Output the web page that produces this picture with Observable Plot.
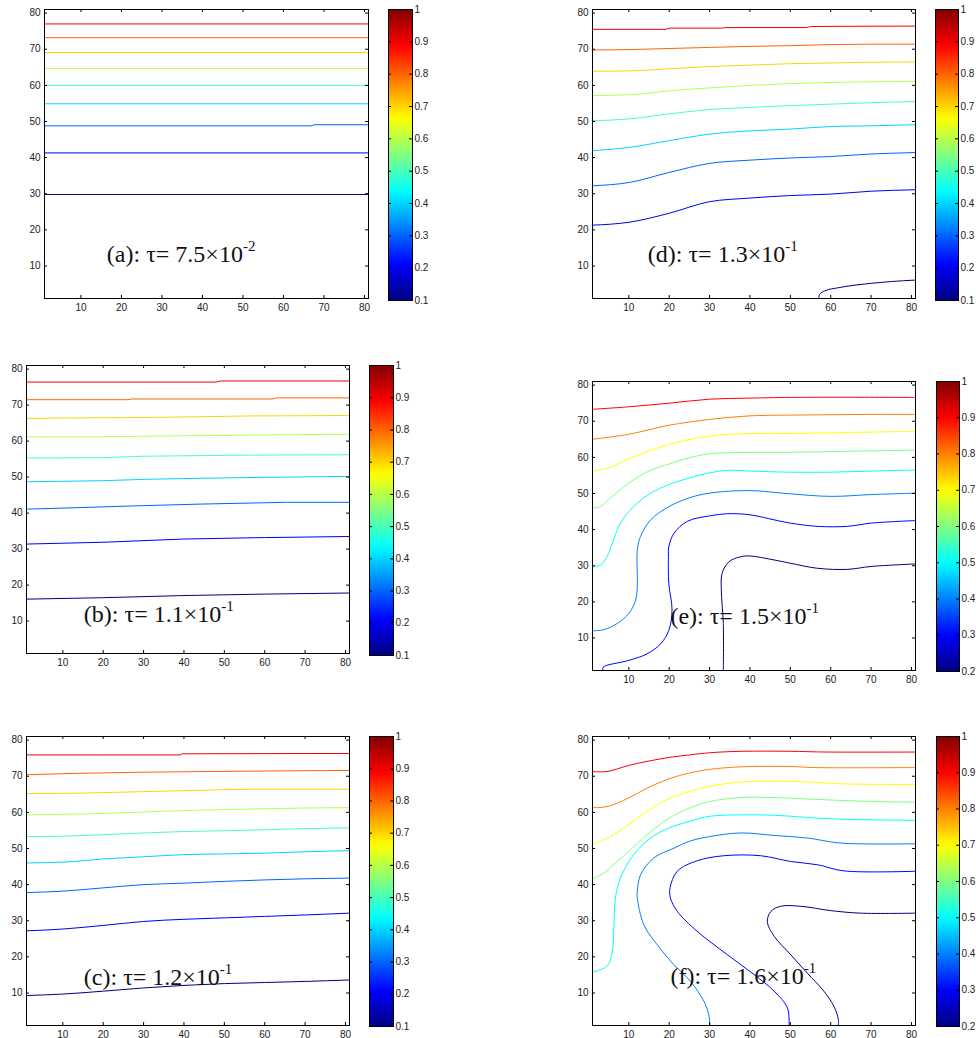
<!DOCTYPE html>
<html><head><meta charset="utf-8">
<script src="https://cdn.jsdelivr.net/npm/d3@7"></script>
<script src="https://cdn.jsdelivr.net/npm/@observablehq/plot@0.6"></script>
<style>
body{margin:0;background:#fff;}
#root{position:relative;width:976px;height:1038px;overflow:hidden;}
</style></head><body><div id="root"></div>
<script>
// ---------- data ----------
const axisTicks = [10,20,30,40,50,60,70,80];
const cbTicks01 = [0.1,0.2,0.3,0.4,0.5,0.6,0.7,0.8,0.9,1];
const cbTicks02 = [0.2,0.3,0.4,0.5,0.6,0.7,0.8,0.9,1];

const linesA = [
 [0.9, [[1,77.0],[81,77.0]]],
 [0.8, [[1,73.2],[81,73.2]]],
 [0.7, [[1,69.1],[81,69.1]]],
 [0.6, [[1,64.7],[81,64.7]]],
 [0.5, [[1,60.0],[81,60.0]]],
 [0.4, [[1,54.9],[81,54.9]]],
 [0.3, [[1,48.8],[67,48.8],[67.5,49.1],[81,49.1]]],
 [0.2, [[1,41.3],[81,41.3]]],
 [0.1, [[1,29.8],[81,29.8]]]
];
const linesB = [
 [0.9, [[1,76.4],[48,76.4],[49,76.7],[81,76.7]]],
 [0.8, [[1,71.5],[26,71.5],[27,71.7],[62,71.7],[63,72.0],[81,72.0]]],
 [0.7, [[1,66.3],[10,66.4],[34,66.6],[57,67.0],[81,67.1]]],
 [0.6, [[1,61.2],[20,61.2],[41,61.5],[60,61.7],[81,61.9]]],
 [0.5, [[1,55.3],[20,55.4],[30,55.8],[56,56.1],[81,56.2]]],
 [0.4, [[1,48.7],[20,49.0],[31,49.4],[51,49.8],[81,50.2]]],
 [0.3, [[1,41.1],[13.5,41.5],[27.6,42.0],[44,42.5],[65.7,43.0],[81,43.0]]],
 [0.2, [[1,31.4],[20,31.9],[40,32.8],[60,33.2],[81,33.5]]],
 [0.1, [[1,16.1],[20,16.5],[40,17.1],[60,17.5],[81,17.8]]]
];
const linesC = [
 [0.9, [[1,75.9],[39,75.9],[39.5,76.2],[81,76.3]]],
 [0.8, [[1,70.4],[13.5,70.8],[28.5,71.1],[45.8,71.3],[67,71.5],[81,71.6]]],
 [0.7, [[1,65.2],[13.5,65.3],[31.8,65.8],[44,66.1],[56.6,66.4],[81,66.4]]],
 [0.6, [[1,59.3],[20,59.7],[40,60.5],[60,61.0],[70,61.2],[81,61.3]]],
 [0.5, [[1,53.3],[10,53.4],[20,53.8],[30,54.3],[40,54.7],[50,54.9],[60,55.2],[70,55.5],[81,55.7]]],
 [0.4, [[1,46.0],[10,46.2],[20,47.1],[30,47.7],[40,48.3],[50,48.5],[60,48.7],[70,49.1],[81,49.4]]],
 [0.3, [[1,37.8],[10,38.2],[20,39.1],[30,40.0],[40,40.4],[50,40.9],[60,41.3],[70,41.6],[81,41.8]]],
 [0.2, [[1,27.2],[10,27.7],[20,28.7],[30,29.8],[40,30.4],[50,30.8],[60,31.2],[70,31.6],[81,32.1]]],
 [0.1, [[1,9.3],[10,9.7],[20,10.5],[30,11.4],[40,12.1],[50,12.6],[60,12.9],[70,13.2],[81,13.6]]]
];
const linesD = [
 [0.9, [[1,75.5],[19,75.5],[20,75.85],[33,75.85],[34,76.0],[54,76.0],[55,76.3],[81,76.4]]],
 [0.8, [[1,69.8],[10,69.9],[20,70.2],[30,70.5],[40,70.8],[50,71.0],[60,71.3],[70,71.4],[81,71.4]]],
 [0.7, [[1,63.9],[10,64.0],[20,64.6],[30,65.2],[40,65.6],[50,66.0],[60,66.2],[70,66.4],[81,66.5]]],
 [0.6, [[1,57.2],[10,57.4],[20,58.5],[30,59.3],[40,60.0],[50,60.5],[60,60.8],[70,61.0],[81,61.1]]],
 [0.5, [[1,50.2],[10,50.7],[20,52.1],[30,53.3],[40,53.9],[50,54.4],[60,54.8],[70,55.2],[81,55.5]]],
 [0.4, [[1,41.9],[10,42.8],[20,44.7],[30,46.5],[40,47.4],[50,47.9],[60,48.6],[70,48.8],[81,49.1]]],
 [0.3, [[1,32.2],[10,33.1],[20,35.9],[30,38.4],[40,39.3],[50,39.9],[60,40.3],[70,41.0],[81,41.4]]],
 [0.2, [[1,21.3],[10,22.1],[20,24.6],[30,27.8],[40,28.8],[50,29.5],[60,29.9],[70,30.7],[81,31.1]]],
 [0.1, [[57,1],[57.2,2],[58.5,3.1],[62,4],[66,4.7],[70,5.2],[75,5.7],[81,6.1]]]
];
const linesE = [
 [0.9, [[1,73.3],[10,74.0],[20,75.0],[30,76.1],[40,76.4],[50,76.6],[81,76.6]]],
 [0.8, [[1,65.0],[10,66.4],[20,68.9],[30,70.5],[40,71.5],[50,71.7],[60,71.8],[70,71.9],[81,71.9]]],
 [0.7, [[1,56.1],[5,57.1],[10,59.6],[20,63.6],[30,65.9],[40,66.6],[50,66.6],[60,66.8],[70,67.0],[81,67.2]]],
 [0.6, [[1,46.0],[3,46.4],[5,48.3],[10,52.9],[15,56.2],[20,58.2],[25,59.9],[30,61.0],[40,61.4],[50,61.4],[60,61.6],[70,61.8],[81,62.0]]],
 [0.5, [[1,29.7],[3,30.2],[4.6,32.5],[5.9,36.2],[7.9,41.8],[11.2,46.4],[15.4,50.1],[20,52.5],[25,54.3],[30,55.7],[34.4,56.4],[40,56.2],[50,55.9],[60,55.9],[70,56.2],[81,56.5]]],
 [0.4, [[1,12.0],[3.8,12.3],[7.1,14.0],[10,16.8],[11.7,20.5],[12.1,25.1],[12.1,34.4],[12.9,38.1],[15.4,42.7],[20,46.4],[25,48.8],[30,50.1],[40,50.8],[50,49.9],[60,49.2],[70,49.7],[81,50.1]]],
 [0.3, [[3.6,1],[3.6,1.9],[10,3.8],[14.5,5.6],[17.9,8.4],[19.9,12.1],[20.7,17.7],[19.9,25.1],[19.8,32.5],[19.9,35.3],[21.2,39.0],[24.5,42.3],[30,43.8],[34.4,44.4],[40,44.1],[46,42.7],[50,41.8],[56.7,40.9],[64.1,40.9],[70,41.8],[81,42.5]]],
 [0.2, [[33.4,1],[33.4,14],[32.9,23.3],[33.1,27.9],[34.8,31.1],[37.7,32.5],[40,32.7],[46,31.6],[50,30.7],[56.7,29.3],[64.1,29.0],[70,29.8],[81,30.5]]]
];
const linesF = [
 [0.9, [[1,71.3],[4.6,71.3],[10,73.0],[14.5,74.1],[20,75.2],[25,75.9],[30,76.5],[37.7,76.9],[50,76.9],[59,76.7],[81,76.7]]],
 [0.8, [[1,61.3],[4.6,61.6],[10,64.0],[14.5,66.7],[20,69.3],[25,70.9],[30,71.9],[37.7,72.6],[50,72.7],[55.9,72.4],[81,72.4]]],
 [0.7, [[1,51.2],[4.6,52.8],[10,56.6],[14.5,60.3],[20,63.8],[25,65.8],[30,67.2],[37.7,68.4],[46,68.6],[54.2,68.4],[62.5,67.9],[81,67.7]]],
 [0.6, [[1,41.6],[3.8,43.2],[7.1,46.4],[10,49.2],[14.5,53.8],[20,58.4],[25,61.2],[30,63.0],[37.7,64.1],[46,64.1],[54.2,63.7],[62.5,63.3],[70.7,63.0],[81,62.8]]],
 [0.5, [[1,15.8],[4.6,17.4],[5.9,21.5],[6.3,28.9],[6.7,36.3],[7.9,41.8],[11.2,48.3],[15.4,52.9],[20,55.7],[25,57.5],[30,58.9],[37.7,59.3],[46,59.2],[54.2,58.6],[62.5,58.1],[81,57.8]]],
 [0.4, [[30.1,1],[29.8,4],[28.6,7.7],[25.3,13.2],[21.2,17.8],[17,23.4],[13.7,28.9],[12.1,36.3],[12.1,38.1],[12.9,42.7],[16.2,47.4],[21.2,50.1],[25,52.0],[30,53.3],[37.7,54.3],[46,53.6],[54.2,52.9],[62.5,51.5],[81,51.3]]],
 [0.3, [[49.7,1],[49.3,5.8],[46,10.5],[41,15.1],[34.4,20.6],[26.9,27.1],[22,32.6],[20.3,36.3],[20.2,39.1],[22,43.7],[26.9,46.6],[33.6,48.0],[42.6,48.0],[50.1,46.4],[56.7,45.5],[63.3,43.8],[81,43.7]]],
 [0.2, [[61.9,1],[61.9,2.6],[60.8,6.3],[58.3,10.5],[54.2,15.5],[50.1,20.6],[46,25.7],[44.3,29.8],[45.2,32.6],[47.6,34.0],[52.6,34.0],[60,32.8],[67.4,32.1],[81,32.1]]]
];

const capText = ["(a): τ= 7.5×10", "(b): τ= 1.1×10", "(c): τ= 1.2×10", "(d): τ= 1.3×10", "(e): τ= 1.5×10", "(f): τ= 1.6×10"];
const capExp  = ["-2", "-1", "-1", "-1", "-1", "-1"];
const capX    = [16.4, 15.2, 15.2, 14.7, 20.3, 20.3];
const capY    = [11.0, 9.7, 12.3, 11.0, 14.0, 12.5];
const cbLow   = [0.1, 0.1, 0.1, 0.1, 0.2, 0.2];

// ---------- layout ----------
const frames = [
 {left:44.3, top:9,     w:324, h:289},   // a
 {left:26,   top:365,   w:323, h:288},   // b
 {left:26,   top:735.7, w:323, h:289},   // c
 {left:591.7,top:9,     w:323, h:289},   // d
 {left:592.3,top:380.7, w:323, h:289},   // e
 {left:592.3,top:735.7, w:323, h:289}    // f
];
const cbars = [
 {left:388.3, top:9,     w:24, h:291},
 {left:369,   top:365,   w:24, h:290},
 {left:369,   top:735.7, w:24, h:290},
 {left:935,   top:9,     w:23, h:291},
 {left:935.7, top:380.7, w:23, h:290},
 {left:935.7, top:735.7, w:23, h:290}
];
const allLines = [linesA, linesB, linesC, linesD, linesE, linesF];
const curves = ["linear","linear","monotone-x","monotone-x","catmull-rom","catmull-rom"];

const jet = d3.piecewise(d3.interpolateRgb, ["#000080","#0000ff","#0080ff","#00ffff","#80ff80","#ffff00","#ff8000","#ff0000","#800000"]);
const root = document.getElementById("root");
const font = "'Liberation Sans', Arial, Helvetica, sans-serif";

function place(svg, left, top) {
  svg.style.position = "absolute";
  svg.style.left = left + "px";
  svg.style.top = top + "px";
  svg.style.maxWidth = "none";
  svg.style.background = "transparent";
  svg.style.overflow = "visible";
  root.appendChild(svg);
}

for (let i = 0; i < 6; i++) {
  const F = frames[i], C = cbars[i], lo = cbLow[i];
  const mL = 32, mR = 6, mT = 8, mB = 22;
  const rows = allLines[i].flatMap(([lev, pts]) => pts.map(([x, y]) => ({lev, x, y})));
  const cap = [{x: capX[i], y: capY[i], t: capText[i] + "^" + capExp[i]}];
  const p = Plot.plot({
    width: F.w + mL + mR, height: F.h + mT + mB,
    marginLeft: mL, marginRight: mR, marginTop: mT, marginBottom: mB,
    style: {fontFamily: font, fontSize: "10px", color: "#222"},
    x: {domain: [1, 81], axis: null},
    y: {domain: [1, 81], axis: null},
    color: {type: "linear", domain: [lo, 1], interpolate: jet},
    marks: [
      Plot.line(rows, {x: "x", y: "y", z: "lev", stroke: "lev", strokeWidth: 1, curve: curves[i]}),
      Plot.axisX(axisTicks, {tickSize: 0, tickPadding: 5, label: null, tickFormat: d => `${d}`}),
      Plot.axisY(axisTicks, {tickSize: 0, tickPadding: 4, label: null, tickFormat: d => `${d}`}),
      Plot.tickX(axisTicks, {x: d => d, insetTop: F.h - 3, stroke: "#000"}),
      Plot.tickX(axisTicks, {x: d => d, insetBottom: F.h - 3, stroke: "#000"}),
      Plot.tickY(axisTicks, {y: d => d, insetRight: F.w - 3, stroke: "#000"}),
      Plot.tickY(axisTicks, {y: d => d, insetLeft: F.w - 3, stroke: "#000"}),
      Plot.text(cap, {x: "x", y: "y", text: "t", textAnchor: "start", lineAnchor: "bottom",
        fontFamily: "'Liberation Serif', 'Times New Roman', serif", fontSize: 24, fill: "#111"}),
      Plot.frame({stroke: "#000"})
    ]
  });
  // superscript exponent
  p.querySelectorAll("text").forEach(t => {
    const s = t.textContent;
    if (s.includes("^")) {
      const [main, ex] = s.split("^");
      t.textContent = main;
      const ts = document.createElementNS("http://www.w3.org/2000/svg", "tspan");
      ts.setAttribute("dy", "-11");
      ts.setAttribute("font-size", "15");
      ts.textContent = ex;
      t.appendChild(ts);
    }
  });
  place(p, F.left - mL, F.top - mT);

  const ticks = lo === 0.1 ? cbTicks01 : cbTicks02;
  const cmT = 8, cmB = 8, cmR = 30;
  const cb = Plot.plot({
    width: C.w + cmR, height: C.h + cmT + cmB,
    marginLeft: 0, marginRight: cmR, marginTop: cmT, marginBottom: cmB,
    style: {fontFamily: font, fontSize: "10px", color: "#222"},
    x: {domain: [0, 1], axis: null},
    y: {domain: [lo, 1], axis: null},
    color: {type: "linear", domain: [lo, 1], interpolate: jet},
    marks: [
      Plot.raster({x1: 0, x2: 1, y1: lo, y2: 1, fill: (x, y) => y, width: 1, height: 64}),
      Plot.axisY(ticks, {anchor: "right", tickSize: 0, tickPadding: 2, label: null, tickFormat: d => `${d}`}),
      Plot.tickY(ticks, {y: d => d, insetLeft: C.w - 3, stroke: "#000"}),
      Plot.tickY(ticks, {y: d => d, insetRight: C.w - 3, stroke: "#000"}),
      Plot.frame({stroke: "#000"})
    ]
  });
  place(cb, C.left, C.top - cmT);
}
</script></body></html>
